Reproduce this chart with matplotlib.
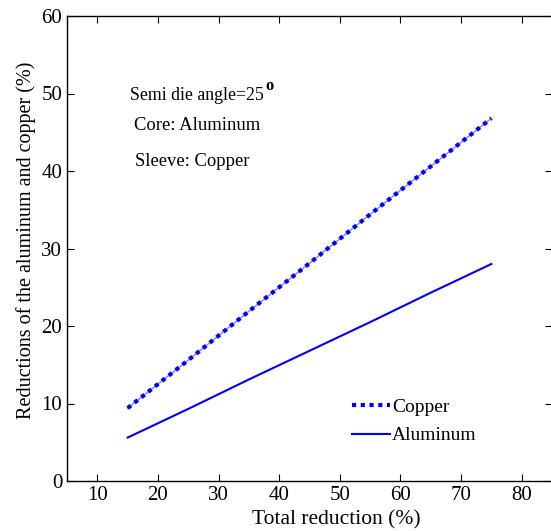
import numpy as np
import matplotlib.pyplot as plt

plt.rcParams['font.family'] = ['Liberation Serif', 'DejaVu Serif']

total_reduction = [15, 25, 35, 45, 55, 65, 75]
copper = [9.4, 15.6, 21.9, 28.1, 34.4, 40.6, 46.8]
aluminum = [5.6, 9.3, 13.1, 16.8, 20.5, 24.3, 28.0]

fig = plt.figure(figsize=(5.51, 5.31), dpi=100)
ax = fig.add_axes([67/551, 1 - 481/531, (552 - 67)/551, (481 - 16)/531])

ax.plot(total_reduction, copper, color='#8080ff', lw=1.0)
cu, = ax.plot(total_reduction, copper, color='blue', lw=3.0, ls=(0, (1, 1.1)))
al, = ax.plot(total_reduction, aluminum, color='blue', lw=1.5)

ax.set_xlim(5, 85)
ax.set_ylim(0, 60)
ax.set_xticks(np.arange(10, 81, 10))
ax.set_yticks(np.arange(0, 61, 10))
ax.tick_params(direction='in', top=True, right=True, labelsize=15, length=5, width=0.8)
for s in ax.spines.values():
    s.set_linewidth(1.0)

ax.set_xlabel('Total reduction (%)', fontsize=15.5)
ax.xaxis.set_label_coords(0.555, -0.0635)
ax.set_ylabel('Reductions of the aluminum and copper (%)', fontsize=14.5)
ax.yaxis.set_label_coords(-0.064, 0.518)

ax.text(0.13, 0.819, 'Semi die angle=25', transform=ax.transAxes, fontsize=12.8)
ax.text(0.408, 0.840, 'o', transform=ax.transAxes, fontsize=12, fontweight='bold')
ax.text(0.138, 0.755, 'Core: Aluminum', transform=ax.transAxes, fontsize=13.4)
ax.text(0.140, 0.677, 'Sleeve: Copper', transform=ax.transAxes, fontsize=13.4)

ax.legend([cu, al], ['Copper', 'Aluminum'], loc='lower left', bbox_to_anchor=(0.572, 0.062),
          frameon=False, fontsize=14, handlelength=1.95, handletextpad=0.1,
          labelspacing=0.55, borderaxespad=0)

fig.savefig('out.png', dpi=100)
